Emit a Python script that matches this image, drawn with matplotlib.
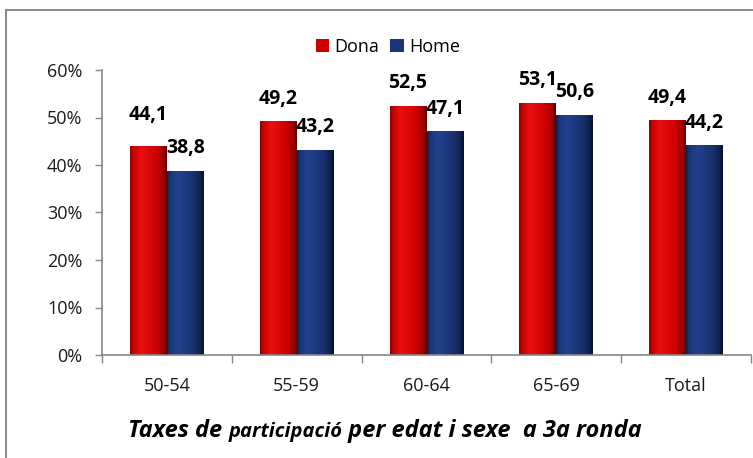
import matplotlib
matplotlib.use("Agg")
from matplotlib import pyplot as plt
from matplotlib.colors import LinearSegmentedColormap
from matplotlib.patches import Rectangle
from matplotlib.ticker import FixedLocator, PercentFormatter
import numpy as np

# data
groups = ["50-54", "55-59", "60-64", "65-69", "Total"]
dona = [44.1, 49.2, 52.5, 53.1, 49.4]
home = [38.8, 43.2, 47.1, 50.6, 44.2]
series_names = ["Dona", "Home"]
title_parts = ["Taxes de ", "participació", " per edat i sexe  a 3a ronda"]

plt.rcParams["font.family"] = ["Open Sans", "DejaVu Sans"]

red_cmap = LinearSegmentedColormap.from_list(
    "red_bar", [(0, "#8a0000"), (0.08, "#c80000"), (0.3, "#ec1010"), (0.75, "#c80000"), (0.92, "#9a0000"), (1, "#5a0000")])
blue_cmap = LinearSegmentedColormap.from_list(
    "blue_bar", [(0, "#0c2050"), (0.08, "#1a3578"), (0.3, "#22418e"), (0.75, "#17306c"), (0.92, "#0e1f4c"), (1, "#06112c")])


def shade_bars(ax, bars, cmap):
    """paint a horizontal gradient into each bar (cylinder look)"""
    grad = np.linspace(0, 1, 64).reshape(1, -1)
    for b in bars:
        x0, w, h = b.get_x(), b.get_width(), b.get_height()
        im = ax.imshow(grad, cmap=cmap, aspect="auto", extent=(x0, x0 + w, 0, h),
                       interpolation="bicubic", zorder=b.get_zorder() + 0.1)
        im.set_clip_path(b)


fig = plt.figure(figsize=(7.53, 4.58), dpi=100)
fig.patches.append(Rectangle((6 / 753, -0.05), 1.0, 1 - 10 / 458 + 0.05, transform=fig.transFigure,
                             fill=False, edgecolor="#8c8c8c", linewidth=1.5, zorder=0))

ax = fig.add_axes([102 / 753, 1 - 355 / 458, (751 - 102) / 753, (355 - 70) / 458])
x = np.arange(len(groups))
w = 0.285
bars_d = ax.bar(x - w / 2, np.array(dona) / 100, width=w, color="#d00000", label=series_names[0], zorder=2)
bars_h = ax.bar(x + w / 2, np.array(home) / 100, width=w, color="#1a3578", label=series_names[1], zorder=2)
shade_bars(ax, bars_d, red_cmap)
shade_bars(ax, bars_h, blue_cmap)

for i, (bd, bh) in enumerate(zip(bars_d, bars_h)):
    lift = 8 if i == 0 else 0
    for b, v, extra in ((bd, dona[i], lift), (bh, home[i], 0)):
        ax.annotate(f"{v:.1f}".replace(".", ","), (b.get_x() + b.get_width() / 2, b.get_height()),
                    xytext=(0, 9 + extra * 0.72), textcoords="offset points", ha="center", va="bottom",
                    fontsize=14, fontweight="bold", color="black", zorder=5)

ax.set_xlim(-0.5, len(groups) - 0.5)
ax.set_ylim(0, 0.6)
ax.yaxis.set_major_locator(FixedLocator(np.arange(0, 0.61, 0.1)))
ax.yaxis.set_major_formatter(PercentFormatter(1.0, decimals=0))
ax.xaxis.set_major_locator(FixedLocator(np.arange(-0.5, len(groups), 1.0)))
ax.xaxis.set_major_formatter(plt.NullFormatter())
ax.xaxis.set_minor_locator(FixedLocator(x))
ax.set_xticklabels(groups, minor=True)
ax.tick_params(axis="x", which="major", length=6, color="#868686", width=1)
ax.tick_params(axis="x", which="minor", length=0, pad=16, labelsize=13, labelcolor="#1a1a1a")
ax.tick_params(axis="y", length=5, color="#868686", width=1, labelsize=13, labelcolor="#1a1a1a", pad=9)
for s in ("top", "right"):
    ax.spines[s].set_visible(False)
for s in ("left", "bottom"):
    ax.spines[s].set_color("#868686")
    ax.spines[s].set_linewidth(1.2)

ax.legend(loc="center", bbox_to_anchor=(388 / 753, 1 - 47 / 458), bbox_transform=fig.transFigure,
          ncol=2, frameon=False, fontsize=13, handlelength=0.75, handleheight=0.75,
          handletextpad=0.3, columnspacing=0.6, borderaxespad=0)

# title at the bottom with a smaller middle word
renderer = fig.canvas.get_renderer()
sizes = [17, 14.5, 17]
pieces = []
for part, size in zip(title_parts, sizes):
    pieces.append(fig.text(0, 1 - 437 / 458, part, fontsize=size, fontweight="bold", style="italic", va="baseline"))
total = sum(t.get_window_extent(renderer).width for t in pieces)
x_px = 385 - total / 2
for t in pieces:
    t.set_x(x_px / 753)
    x_px += t.get_window_extent(renderer).width

fig.savefig("out.png", dpi=100)
